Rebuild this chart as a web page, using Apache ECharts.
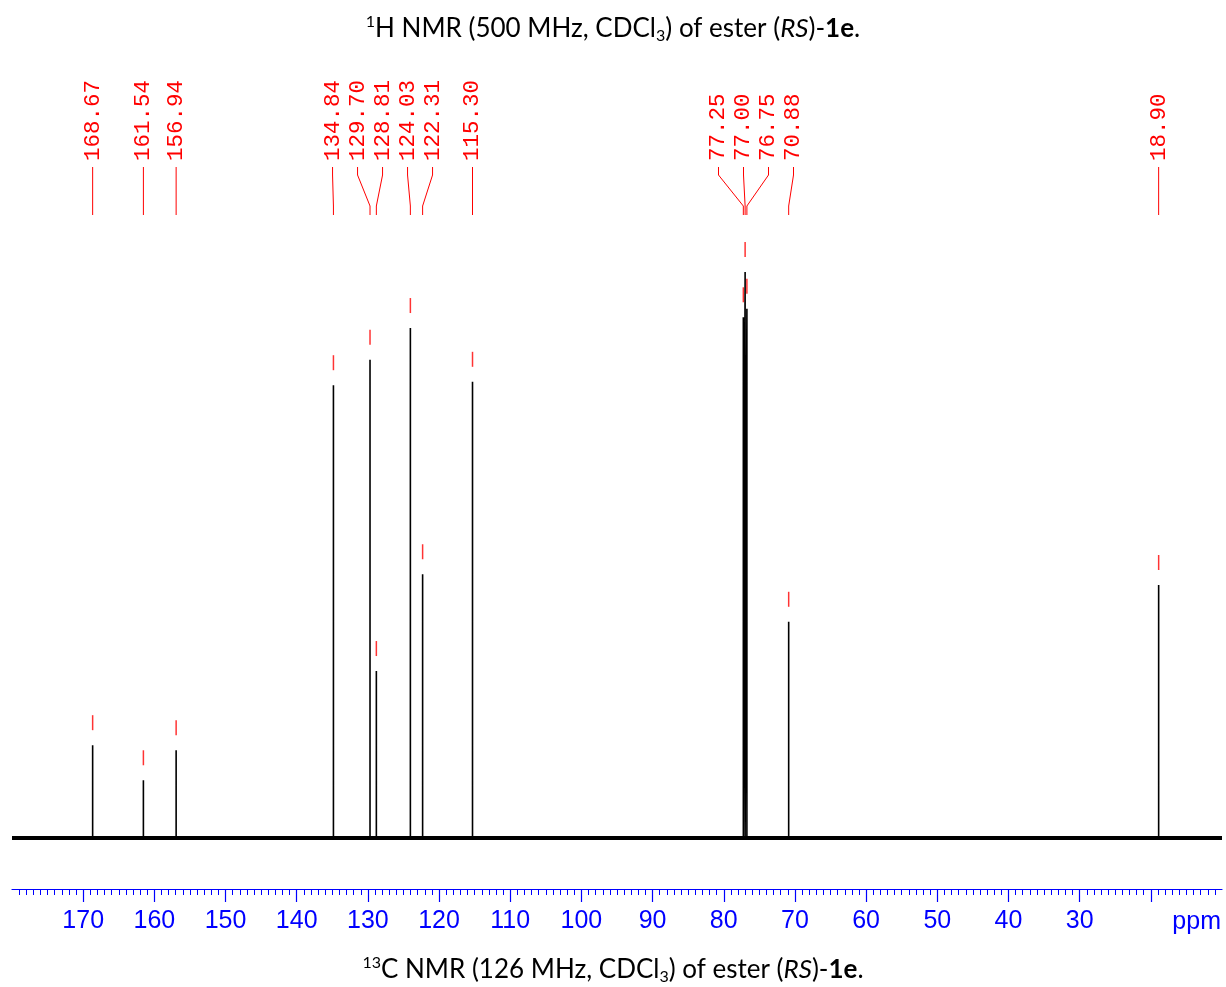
<!DOCTYPE html>
<html>
<head>
<meta charset="utf-8">
<script src="https://cdn.jsdelivr.net/npm/echarts@6/dist/echarts.min.js"></script>
<style>
  html, body { margin: 0; padding: 0; background: #fff; }
  #chart { width: 1226px; height: 987px; }
</style>
</head>
<body>
<div id="chart"></div>
<script>
// ---- data ----
const peakPpm    = [168.67, 161.54, 156.94, 134.84, 129.70, 128.81, 124.03, 122.31, 115.30, 77.25, 77.00, 76.75, 70.88, 18.90];
const peakHeight = [16.4,   10.2,   15.5,   80.0,   84.5,   29.5,   90.1,   46.6,   80.6,   92.0,  100.0, 93.5,  38.2,  44.7];
const peakLabels = ['168.67','161.54','156.94','134.84','129.70','128.81','124.03','122.31','115.30','77.25','77.00','76.75','70.88','18.90'];
const tickLabels = ['170','160','150','140','130','120','110','100','90','80','70','60','50','40','30'];
const majorTicks = [170, 160, 150, 140, 130, 120, 110, 100, 90, 80, 70, 60, 50, 40, 30, 20];
const axisRange  = [10, 180];
const titleTop    = '{sup|1}H NMR (500 MHz, CDCl{sub|3}) of ester ({it|RS})-{b|1e}.';
const titleBottom = '{sup|13}C NMR (126 MHz, CDCl{sub|3}) of ester ({it|RS})-{b|1e}.';

// ---- build series data from the arrays ----
const order = peakPpm.map((p, i) => i).sort((a, b) => peakPpm[b] - peakPpm[a]);
const spectrum = [];
order.forEach(i => {
  spectrum.push([peakPpm[i], 0], [peakPpm[i], peakHeight[i]], [peakPpm[i], 0]);
});
const baseline = [[axisRange[1], 0], [axisRange[0], 0]];
const markers = peakPpm.map((p, i) => [p, peakHeight[i]]);

const BLUE = '#0000ff', RED = '#ff0000';
const FS = 26, LH = 30;
const richStyle = {
  sup: { fontSize: 16, verticalAlign: 'top', lineHeight: 16, fontFamily: 'Lato', color: '#000' },
  sub: { fontSize: 16, verticalAlign: 'bottom', lineHeight: 16, fontFamily: 'Lato', color: '#000' },
  it:  { fontStyle: 'italic', fontSize: FS, fontFamily: 'Lato', color: '#000', lineHeight: LH },
  b:   { fontWeight: 'bold', fontSize: FS, fontFamily: 'Lato', color: '#000', lineHeight: LH }
};

const chart = echarts.init(document.getElementById('chart'), null, { renderer: 'canvas' });
chart.setOption({
  animation: false,
  backgroundColor: '#fff',
  title: [
    { text: titleTop, left: 'center', top: 14, padding: 0,
      textStyle: { fontFamily: 'Lato', fontSize: FS, fontWeight: 'normal', color: '#000', lineHeight: LH, rich: richStyle } },
    { text: titleBottom, left: 'center', top: 955, padding: 0,
      textStyle: { fontFamily: 'Lato', fontSize: FS, fontWeight: 'normal', color: '#000', lineHeight: LH, rich: richStyle } }
  ],
  grid: { left: 12, right: 4, top: 272, bottom: 98, containLabel: false },
  xAxis: {
    type: 'value', inverse: true, min: axisRange[0], max: axisRange[1], interval: 10,
    axisLine: { show: true, onZero: false, lineStyle: { color: BLUE, width: 1.2 } },
    axisTick: { show: true, length: 13, customValues: majorTicks, lineStyle: { color: BLUE, width: 1.2 } },
    minorTick: { show: true, splitNumber: 10, length: 6, lineStyle: { color: BLUE, width: 1 } },
    splitLine: { show: false },
    axisLabel: {
      color: BLUE, fontSize: 25, fontFamily: 'Liberation Sans', margin: 20,
      showMinLabel: true, showMaxLabel: true,
      formatter: v => tickLabels.includes(String(v)) ? String(v) : ''
    }
  },
  yAxis: { type: 'value', show: false, min: -9.01, max: 100 },
  series: [
    { type: 'line', data: baseline, symbol: 'none', silent: true, clip: false,
      lineStyle: { color: '#000', width: 4 } },
    { type: 'line', data: spectrum, symbol: 'none', silent: true, clip: false,
      lineStyle: { color: '#000', width: 1.6 } },
    { type: 'scatter', data: markers, symbol: 'rect', symbolSize: [1.5, 15], symbolOffset: [0, -22.5],
      itemStyle: { color: RED }, silent: true, clip: false }
  ]
});

// ---- peak-label layout: spread labels so they do not overlap ----
const GAP = 25;
const items = peakPpm.map((p, i) => ({ i, x: chart.convertToPixel({ xAxisIndex: 0 }, p) }))
  .sort((a, b) => a.x - b.x);
let groups = items.map(o => ({ members: [o] }));
function lay(g) {
  const m = g.members.reduce((s, o) => s + o.x, 0) / g.members.length;
  g.start = m - (g.members.length - 1) * GAP / 2;
  g.end = g.start + (g.members.length - 1) * GAP;
}
let changed = true;
while (changed) {
  changed = false;
  groups.forEach(lay);
  for (let k = 0; k < groups.length - 1; k++) {
    if (groups[k + 1].start - groups[k].end < GAP - 0.01) {
      groups[k].members = groups[k].members.concat(groups[k + 1].members);
      groups.splice(k + 1, 1);
      changed = true;
      break;
    }
  }
}
const graphics = [];
const TEXT_Y = 161, L_TOP = 167, K_TOP = 175, K_BOT = 206, L_BOT = 215;
groups.forEach(g => {
  lay(g);
  g.members.forEach((o, j) => {
    const lx = g.start + j * GAP;
    const px = o.x;
    graphics.push({
      type: 'text', x: lx, y: TEXT_Y, rotation: Math.PI / 2, silent: true,
      style: { text: peakLabels[o.i], fill: RED, font: '22.5px "Liberation Mono"', align: 'left', verticalAlign: 'middle' }
    });
    const pts = Math.abs(lx - px) < 0.5
      ? [[px, L_TOP], [px, L_BOT]]
      : [[lx, L_TOP], [lx, K_TOP], [px, K_BOT], [px, L_BOT]];
    graphics.push({ type: 'polyline', silent: true, shape: { points: pts },
      style: { stroke: RED, lineWidth: 1, fill: null } });
  });
});
graphics.push({
  type: 'text', x: 1221, y: 922, silent: true,
  style: { text: 'ppm', fill: BLUE, font: '25px "Liberation Sans"', align: 'right', verticalAlign: 'middle' }
});
chart.setOption({ graphic: graphics });
</script>
</body>
</html>
